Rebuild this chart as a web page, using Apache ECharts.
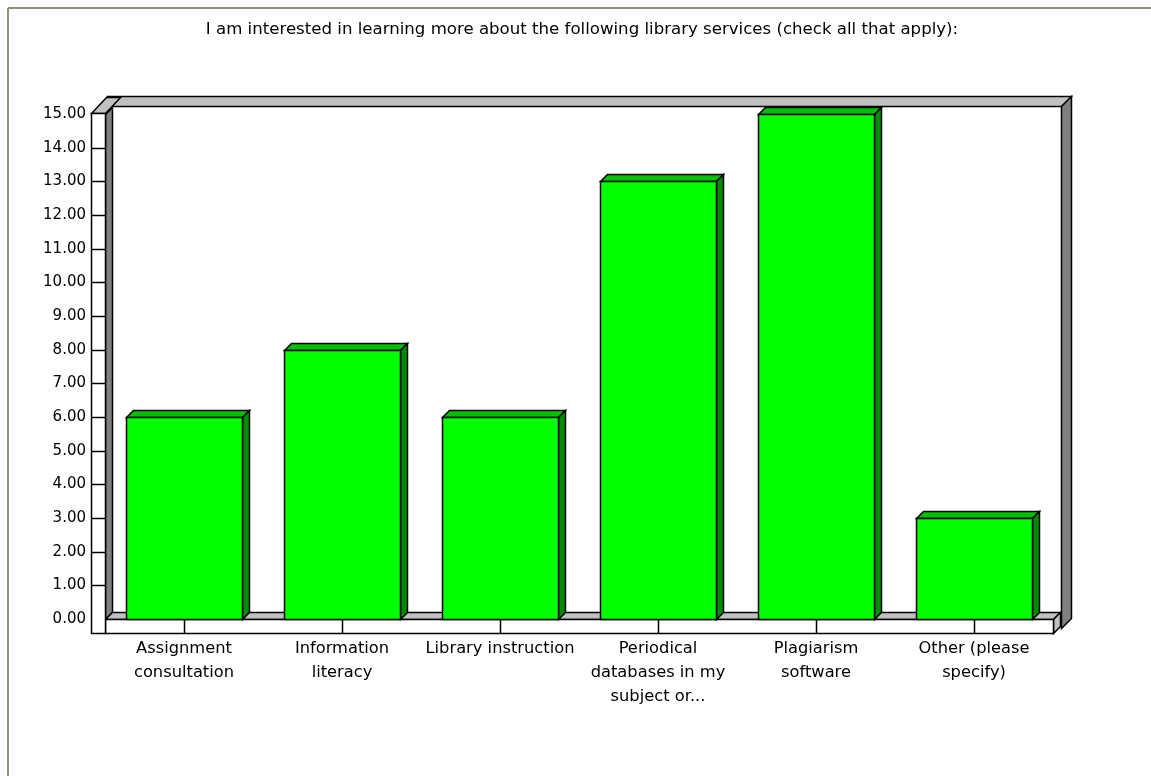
<!DOCTYPE html>
<html><head><meta charset="utf-8">
<script src="https://cdn.jsdelivr.net/npm/echarts@6/dist/echarts.min.js"></script>
<style>html,body{margin:0;padding:0;background:#fff}#c{width:1151px;height:776px}</style>
</head><body><div id="c"></div>
<script>
const titleText = "I am interested in learning more about the following library services (check all that apply):";
const categories = ["Assignment\nconsultation", "Information\nliteracy", "Library instruction", "Periodical\ndatabases in my\nsubject or...", "Plagiarism\nsoftware", "Other (please\nspecify)"];
const values = [6, 8, 6, 13, 15, 3];
const yMin = 0, yMax = 15, yStep = 1;

const FONT = 'DejaVu Sans';
const D = 7;
const LW = 1.5;
const chart = echarts.init(document.getElementById('c'), null, {renderer: 'canvas'});

const option = {
  animation: false,
  backgroundColor: '#ffffff',
  title: {
    text: titleText, left: 577, top: 16, textAlign: 'center',
    textStyle: {fontFamily: FONT, fontSize: 16.6, fontWeight: 'normal', color: '#000'}
  },
  grid: {left: 105, right: 98, top: 114, bottom: 157, containLabel: false},
  xAxis: {
    type: 'category', data: categories,
    axisLine: {show: false}, axisTick: {show: false}, splitLine: {show: false},
    axisLabel: {interval: 0, margin: 18, lineHeight: 24, fontFamily: FONT, fontSize: 16.3, color: '#000'}
  },
  yAxis: {
    type: 'value', min: yMin, max: yMax, interval: yStep,
    axisLine: {show: false}, axisTick: {show: false}, splitLine: {show: false},
    axisLabel: {margin: 19, fontFamily: FONT, fontSize: 15, color: '#000', formatter: v => v.toFixed(2)}
  },
  series: [{
    type: 'custom', z: 5,
    encode: {x: 0, y: 1},
    data: values.map((v, i) => [i, v]),
    renderItem: function (params, api) {
      const idx = api.value(0), v = api.value(1);
      const top = api.coord([idx, v]);
      const base = api.coord([idx, 0]);
      const band = api.size([1, 0])[0];
      const w = band * 0.74;
      const x0 = Math.round(top[0] - w / 2) + 0.5, x1 = Math.round(top[0] + w / 2) + 0.5;
      const yt = Math.round(top[1]) + 0.5, yb = Math.round(base[1]) + 0.5;
      const st = {stroke: '#000', lineWidth: LW, lineJoin: 'miter'};
      return {type: 'group', children: [
        {type: 'polygon', shape: {points: [[x0, yt], [x1, yt], [x1 + D, yt - D], [x0 + D, yt - D]]}, style: Object.assign({fill: '#00c000'}, st)},
        {type: 'polygon', shape: {points: [[x1, yt], [x1 + D, yt - D], [x1 + D, yb - D], [x1, yb]]}, style: Object.assign({fill: '#008c00'}, st)},
        {type: 'rect', shape: {x: x0, y: yt, width: x1 - x0, height: yb - yt}, style: Object.assign({fill: '#00ff00'}, st)}
      ]};
    }
  }]
};
chart.setOption(option);

function P(c, v) { return chart.convertToPixel({gridIndex: 0}, [c, v]); }
const c0 = P(0, 0), cN = P(categories.length - 1, 0);
const band = (cN[0] - c0[0]) / (categories.length - 1);
const xL = Math.round(c0[0] - band / 2) + 0.5;
const xR = Math.round(cN[0] + band / 2) + 0.5;
const yB = Math.round(c0[1]) + 0.5;
const yT = Math.round(P(0, yMax)[1]) + 0.5;
const ST = {stroke: '#000', lineWidth: LW, lineJoin: 'miter'};
const LG = '#c0c0c0', DG = '#808080';
const els = [];
// page frame
els.push({type: 'line', shape: {x1: 8, y1: 8, x2: 1151, y2: 8}, style: {stroke: '#8f8f80', lineWidth: 2}});
els.push({type: 'line', shape: {x1: 8, y1: 8, x2: 8, y2: 776}, style: {stroke: '#8f8f80', lineWidth: 2}});
// top strip (back wall top)
els.push({type: 'polygon', shape: {points: [[xL + 8, yT - 8], [xR + 8, yT - 8], [xR + 18, yT - 18], [xL + 2, yT - 18]]}, style: Object.assign({fill: LG}, ST)});
// right wall
els.push({type: 'polygon', shape: {points: [[xR + 8, yT - 8], [xR + 18, yT - 18], [xR + 18, yB - 1], [xR + 8, yB + 9]]}, style: Object.assign({fill: DG}, ST)});
// left inner side
els.push({type: 'polygon', shape: {points: [[xL, yT], [xL + 7, yT - 7], [xL + 7, yB - 7], [xL, yB]]}, style: Object.assign({fill: DG}, ST)});
// floor top
els.push({type: 'polygon', shape: {points: [[xL, yB], [xR, yB], [xR + D, yB - D], [xL + D, yB - D]]}, style: Object.assign({fill: LG}, ST)});
// floor right face
els.push({type: 'polygon', shape: {points: [[xR, yB], [xR + D, yB - D], [xR + D, yB + 14 - D], [xR, yB + 14]]}, style: Object.assign({fill: LG}, ST)});
// floor front
els.push({type: 'rect', shape: {x: xL, y: yB, width: xR - xL, height: 14}, style: Object.assign({fill: '#fff'}, ST)});
for (let i = 0; i < categories.length; i++) {
  const x = Math.round(P(i, 0)[0]) + 0.5;
  els.push({type: 'line', shape: {x1: x, y1: yB, x2: x, y2: yB + 14}, style: ST});
}
// column top face
els.push({type: 'polygon', shape: {points: [[xL - 14, yT - 1], [xL, yT - 1], [xL + 15, yT - 17], [xL + 1, yT - 17]]}, style: Object.assign({fill: LG}, ST)});
// column front
els.push({type: 'rect', shape: {x: xL - 14, y: yT - 1, width: 14, height: yB + 14 - (yT - 1)}, style: Object.assign({fill: '#fff'}, ST)});
for (let v = yMin + yStep; v < yMax; v += yStep) {
  const y = Math.round(P(0, v)[1]) + 0.5;
  els.push({type: 'line', shape: {x1: xL - 14, y1: y, x2: xL, y2: y}, style: ST});
}
chart.setOption({graphic: {elements: els.map(e => Object.assign({silent: true, z: 0}, e))}});
</script>
</body></html>
